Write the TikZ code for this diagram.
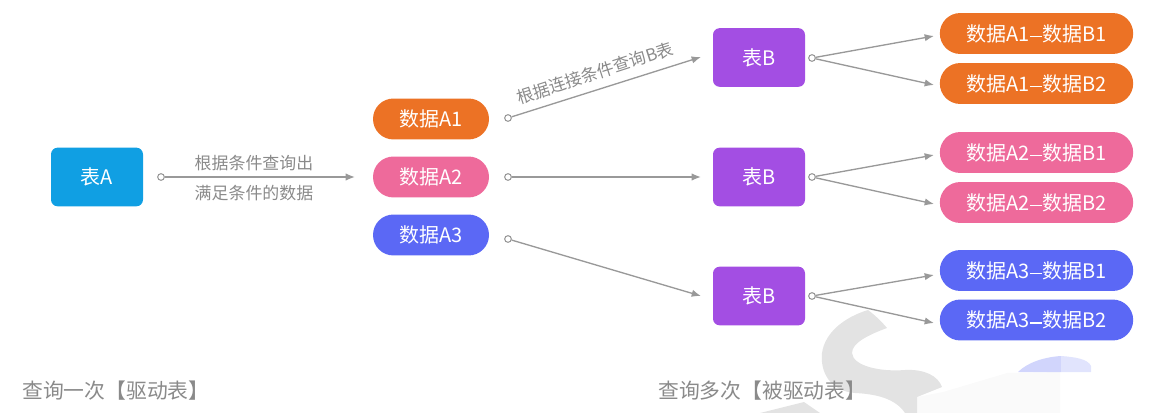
\documentclass[tikz,border=0pt]{standalone}
\usepackage{fontspec}
\setmainfont{Noto Sans CJK SC}
\usetikzlibrary{arrows.meta}
\definecolor{cblue}{HTML}{109FE3}
\definecolor{corange}{HTML}{EC7225}
\definecolor{cpink}{HTML}{EE6A9B}
\definecolor{cindigo}{HTML}{5B68F5}
\definecolor{cpurple}{HTML}{A34EE3}
\definecolor{ctext}{HTML}{8A8A8A}
\definecolor{cline}{HTML}{999999}
\newcommand{\jd}{\raisebox{0.33ex}{\rule{0.62em}{0.09em}}}
\tikzset{
  x=0.75pt,y=-0.75pt,
  tablebox/.style={rounded corners=5pt,minimum width=69pt,minimum height=44pt,inner sep=0pt,text=white,font=\fontsize{15}{15}\selectfont},
  datapill/.style={rounded corners=15.3pt,minimum width=87pt,minimum height=30.7pt,inner sep=0pt,text=white,font=\fontsize{15}{15}\selectfont},
  joinpill/.style={rounded corners=15.3pt,minimum width=145pt,minimum height=30.7pt,inner sep=0pt,text=white,font=\fontsize{15}{15}\selectfont},
  startdot/.style={circle,draw=cline,fill=white,line width=0.8pt,minimum size=5pt,inner sep=0pt},
  link/.style={draw=cline,line width=1pt,-{Latex[length=7pt,width=5.5pt]}},
  note/.style={text=ctext,font=\fontsize{12.7}{13}\selectfont,inner sep=0pt},
  caption/.style={text=ctext,font=\fontsize{15.6}{16}\selectfont,inner sep=0pt,anchor=west},
}
\begin{document}
\begin{tikzpicture}
\useasboundingbox (0,0) rectangle (1163,413);
% watermark
\fill[black!2] (943,392) -- (1007,373) -- (1060,372) -- (1060,413) -- (917,413) -- (917,397) -- cycle;
\fill[black!11] (868,310) .. controls (876,316) and (882,322) .. (887,328)
  .. controls (868,335) and (852,343) .. (852,353)
  .. controls (853,366) and (880,372) .. (905,370)
  .. controls (925,369) and (938,376) .. (942,387)
  -- (917,397) -- (917,413) -- (905,413)
  .. controls (895,398) and (875,394) .. (855,393)
  .. controls (830,391) and (820,372) .. (822,353)
  .. controls (825,332) and (845,317) .. (868,310) -- cycle;
\fill[black!11] (760,413) -- (804,402) -- (820,413) -- cycle;
\fill[cindigo!28] (1018,372) .. controls (1028,362) and (1045,357) .. (1061,356) -- (1061,372) -- cycle;
\fill[cindigo!18] (1061,356) .. controls (1075,357) and (1088,359) .. (1091,366) -- (1091,372) -- (1061,372) -- cycle;
% tables
\node[tablebox,fill=cblue] (ta) at (97,177) {表A};
\node[tablebox,fill=cpurple] (tb1) at (759,57.5) {表B};
\node[tablebox,fill=cpurple] (tb2) at (759,177) {表B};
\node[tablebox,fill=cpurple] (tb3) at (759,296) {表B};
% data A
\node[datapill,fill=corange] (a1) at (431,119) {数据A1};
\node[datapill,fill=cpink] (a2) at (431,177) {数据A2};
\node[datapill,fill=cindigo] (a3) at (431,235) {数据A3};
% joined
\node[joinpill,fill=corange] (r1) at (1036.5,33.5) {数据A1\jd 数据B1};
\node[joinpill,fill=corange] (r2) at (1036.5,83.5) {数据A1\jd 数据B2};
\node[joinpill,fill=cpink] (r3) at (1036.5,152.5) {数据A2\jd 数据B1};
\node[joinpill,fill=cpink] (r4) at (1036.5,202.5) {数据A2\jd 数据B2};
\node[joinpill,fill=cindigo] (r5) at (1036.5,270.5) {数据A3\jd 数据B1};
\node[joinpill,fill=cindigo] (r6) at (1036.5,320) {数据A3\jd 数据B2};
% dots
\node[startdot] (d0) at (161,177) {};
\node[startdot] (d1) at (508,118) {};
\node[startdot] (d2) at (508,177) {};
\node[startdot] (d3) at (508,239) {};
\node[startdot] (e1) at (812,58) {};
\node[startdot] (e2) at (812,177) {};
\node[startdot] (e3) at (812,296) {};
% arrow ends
\coordinate (p0) at (355,177);
\coordinate (p1) at (701,57);
\coordinate (p2) at (701,177);
\coordinate (p3) at (701,296);
\coordinate (q1) at (934,36);
\coordinate (q2) at (934,85);
\coordinate (q3) at (934,155);
\coordinate (q4) at (934,204);
\coordinate (q5) at (934,275);
\coordinate (q6) at (934,323);
% connectors
\draw[link] (d0) -- (p0);
\draw[link] (d1) -- (p1);
\draw[link] (d2) -- (p2);
\draw[link] (d3) -- (p3);
\draw[link] (e1) -- (q1);
\draw[link] (e1) -- (q2);
\draw[link] (e2) -- (q3);
\draw[link] (e2) -- (q4);
\draw[link] (e3) -- (q5);
\draw[link] (e3) -- (q6);
% labels
\node[note] (n1) at (254,163) {根据条件查询出};
\node[note] (n2) at (254,193) {满足条件的数据};
\node[note,rotate=18] (n3) at (595,73) {根据连接条件查询B表};
\node[caption] (c1) at (22,391) {查询一次【驱动表】};
\node[caption] (c2) at (658,391) {查询多次【被驱动表】};
\end{tikzpicture}
\end{document}
